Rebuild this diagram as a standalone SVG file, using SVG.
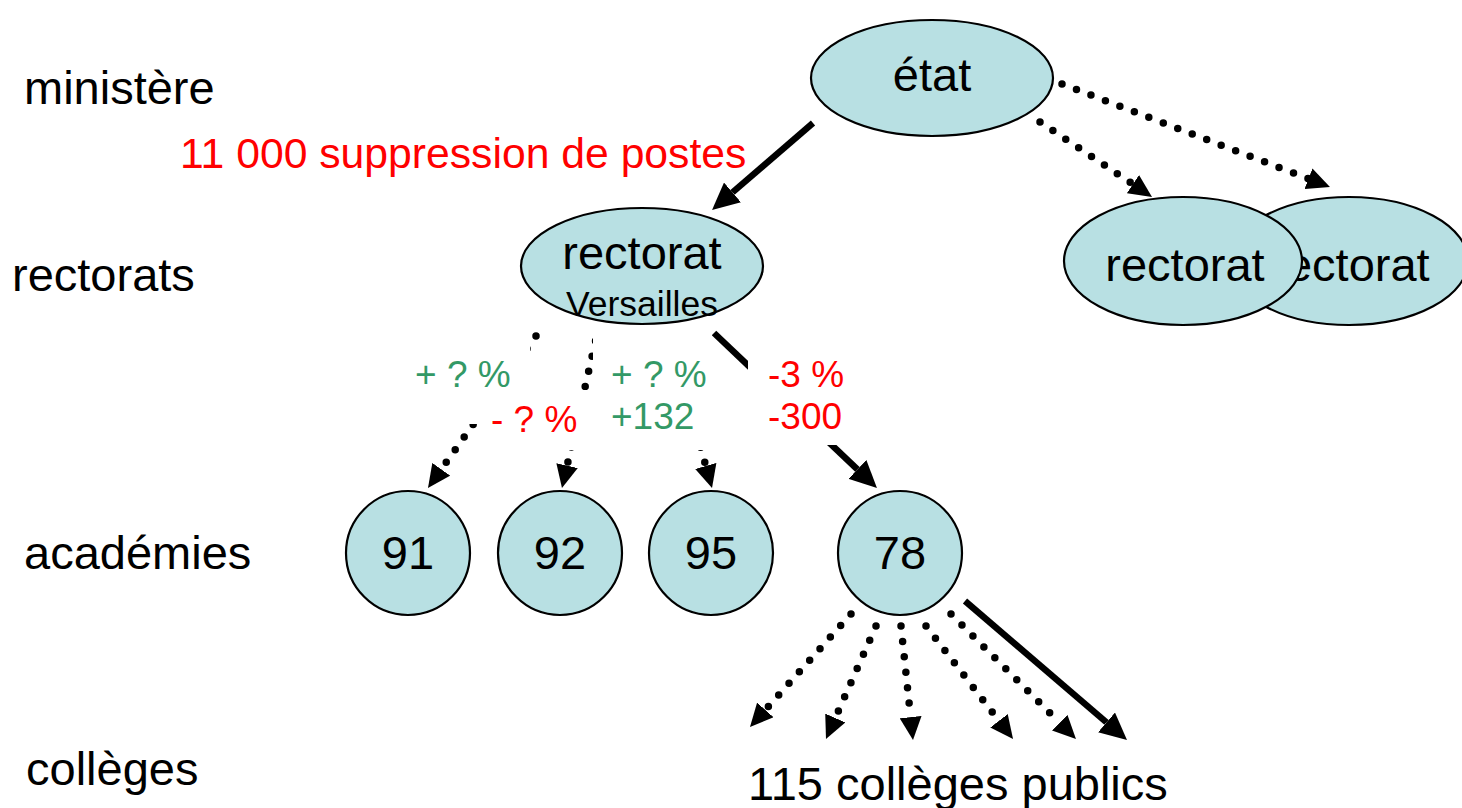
<svg xmlns="http://www.w3.org/2000/svg" width="1462" height="808" viewBox="0 0 1462 808">
<style>
text{font-family:"Liberation Sans",Arial,sans-serif;fill:#000}
.big{font-size:47px}
.lvl{font-size:47px}
.lab{font-size:37px}
.red{fill:#ff0000}
.grn{fill:#339966}
.node{fill:#b8e0e3;stroke:#000;stroke-width:2.2}
.dot{fill:none;stroke:#000;stroke-width:7.5;stroke-linecap:round;stroke-dasharray:0 15.5}
.thick{fill:none;stroke:#000;stroke-width:6.5;stroke-linecap:butt}
.bg{fill:#fff}
</style>
<defs>
<marker id="ah" markerUnits="userSpaceOnUse" markerWidth="24" markerHeight="22" refX="0" refY="11" orient="auto"><path d="M0,0 L23,11 L0,22 z" fill="#000"/></marker>
<marker id="ahb" markerUnits="userSpaceOnUse" markerWidth="28" markerHeight="26" refX="0" refY="13" orient="auto"><path d="M0,0 L27,13 L0,26 z" fill="#000"/></marker>
</defs>
<rect width="1462" height="808" fill="#fff"/>

<g id="levels">
<text class="lvl" x="24" y="104">ministère</text>
<text class="lvl" x="12" y="291">rectorats</text>
<text class="lvl" x="24" y="569">académies</text>
<text class="lvl" x="26" y="785">collèges</text>
</g>

<g id="connectors">
<line class="thick" x1="813" y1="123" x2="732.5" y2="192.4" marker-end="url(#ahb)"/>
<line class="dot" x1="1040" y1="122" x2="1132.9" y2="184.2" marker-end="url(#ah)"/>
<line class="dot" x1="1062" y1="84" x2="1308.5" y2="178.7" marker-end="url(#ah)"/>
<line class="dot" x1="536" y1="336" x2="441.3" y2="469.3" marker-end="url(#ah)"/>
<line class="dot" x1="599" y1="326" x2="567.1" y2="465.6" marker-end="url(#ah)"/>
<line class="dot" x1="667" y1="328" x2="705.8" y2="465.9" marker-end="url(#ah)"/>
<line class="thick" x1="714" y1="333" x2="857.4" y2="469.4" marker-end="url(#ahb)"/>
<line class="dot" x1="851" y1="614" x2="765.3" y2="709.9" marker-end="url(#ah)"/>
<line class="dot" x1="876" y1="626" x2="835.3" y2="718" marker-end="url(#ah)"/>
<line class="dot" x1="901" y1="626" x2="910.6" y2="717.1" marker-end="url(#ah)"/>
<line class="dot" x1="926" y1="626" x2="999" y2="720.8" marker-end="url(#ah)"/>
<line class="dot" x1="951" y1="614" x2="1059.7" y2="722.7" marker-end="url(#ah)"/>
<line class="thick" x1="965" y1="601" x2="1106.5" y2="722.4" marker-end="url(#ahb)"/>
</g>

<g id="labels">
<text class="red" x="180" y="168" style="font-size:42.7px">11 000 suppression de postes</text>
<g id="lab91"><rect class="bg" x="400" y="342" width="130" height="82"/><text class="lab grn" x="415" y="387">+ ? %</text></g>
<g id="lab92"><rect class="bg" x="482" y="390" width="110" height="60"/><text class="lab red" x="491" y="432">- ? %</text></g>
<g id="lab95"><rect class="bg" x="593" y="322" width="119" height="128"/><text class="lab grn" x="611" y="387">+ ? %</text><text class="lab grn" x="611" y="429">+132</text></g>
<g id="lab78"><rect class="bg" x="748" y="350" width="114" height="95"/><text class="lab red" x="768" y="387">-3 %</text><text class="lab red" x="768" y="429">-300</text></g>
<text class="big" x="748" y="800">115 collèges publics</text>
</g>

<g id="etat"><ellipse class="node" cx="932" cy="78" rx="121" ry="58"/><text class="big" x="932" y="91" text-anchor="middle">état</text></g>
<g id="rectorat-back"><ellipse class="node" cx="1349" cy="261" rx="119" ry="64"/><text class="big" x="1350" y="281" text-anchor="middle">rectorat</text></g>
<g id="rectorat-front"><ellipse class="node" cx="1183" cy="261" rx="119" ry="64"/><text class="big" x="1185" y="281" text-anchor="middle">rectorat</text></g>
<g id="rectorat-versailles"><ellipse class="node" cx="642" cy="266" rx="121" ry="58"/><text class="big" x="642" y="269" text-anchor="middle">rectorat</text><text x="642" y="316" text-anchor="middle" style="font-size:35.5px">Versailles</text></g>
<g id="a91"><circle class="node" cx="408" cy="553" r="62"/><text class="big" x="408" y="569" text-anchor="middle">91</text></g>
<g id="a92"><circle class="node" cx="560" cy="553" r="62"/><text class="big" x="560" y="569" text-anchor="middle">92</text></g>
<g id="a95"><circle class="node" cx="711" cy="553" r="62"/><text class="big" x="711" y="569" text-anchor="middle">95</text></g>
<g id="a78"><circle class="node" cx="900" cy="553" r="62"/><text class="big" x="900" y="569" text-anchor="middle">78</text></g>
</svg>
